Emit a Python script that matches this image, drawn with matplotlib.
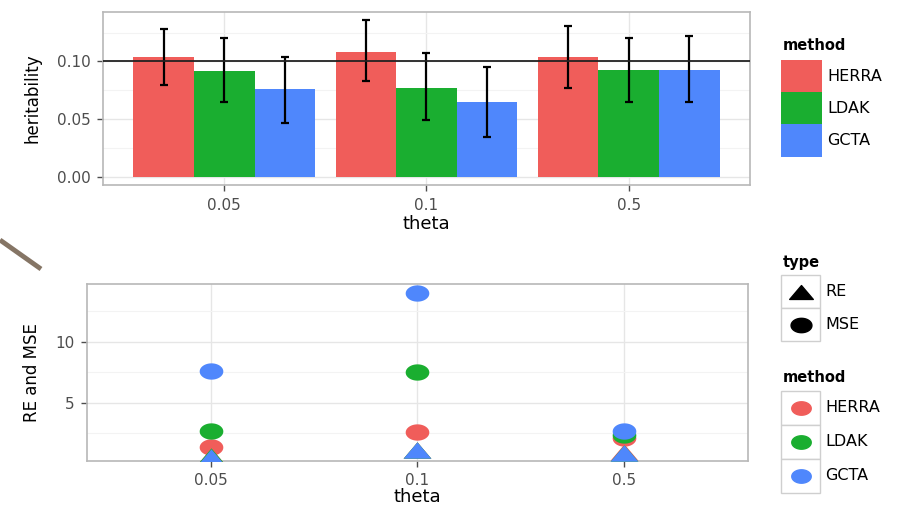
import numpy as np
import matplotlib
matplotlib.use("Agg")
import matplotlib.pyplot as plt
from matplotlib.path import Path
from matplotlib.patches import Rectangle
from matplotlib.lines import Line2D

# ---------------- data ----------------
thetas = ["0.05", "0.1", "0.5"]
methods = ["HERRA", "LDAK", "GCTA"]
colors = ["#F05D5A", "#1AAE30", "#4F87FC"]

# heritability estimates (bar heights) per method, per theta
herit = {
    "HERRA": [0.1035, 0.1085, 0.1035],
    "LDAK":  [0.0915, 0.0770, 0.0930],
    "GCTA":  [0.0760, 0.0650, 0.0930],
}
herit_lo = {
    "HERRA": [0.080, 0.083, 0.077],
    "LDAK":  [0.065, 0.0495, 0.065],
    "GCTA":  [0.047, 0.035, 0.065],
}
herit_hi = {
    "HERRA": [0.128, 0.136, 0.131],
    "LDAK":  [0.1205, 0.107, 0.120],
    "GCTA":  [0.104, 0.095, 0.122],
}
true_h = 0.10

# RE (triangles) and MSE (circles) per method, per theta
re_vals = {
    "HERRA": [0.65, 1.15, 0.95],
    "LDAK":  [0.60, 1.10, 0.90],
    "GCTA":  [0.55, 1.10, 0.90],
}
mse_vals = {
    "HERRA": [1.40, 2.62, 2.15],
    "LDAK":  [2.70, 7.54, 2.40],
    "GCTA":  [7.62, 14.00, 2.70],
}

W, H = 903, 512
fig = plt.figure(figsize=(W / 100, H / 100), dpi=100)
fig.patch.set_facecolor("white")

def fbox(l, t, r, b):
    return [l / W, 1 - b / H, (r - l) / W, (b - t) / H]

def fx(x):
    return x / W

def fy(y):
    return 1 - y / H

GRID_MAJ = "#e6e6e6"
GRID_MIN = "#f3f3f3"
BORDER = "#b8b8b8"
TICKC = "#4d4d4d"

def style_axes(ax):
    ax.set_facecolor("white")
    for s in ax.spines.values():
        s.set_color(BORDER)
        s.set_linewidth(1.2)
    ax.tick_params(axis="both", colors=TICKC, labelcolor=TICKC, length=4,
                   width=1.0, labelsize=11)
    ax.tick_params(axis="x", pad=5)
    ax.tick_params(axis="y", pad=5)
    ax.grid(True, which="major", color=GRID_MAJ, lw=1.0)
    ax.grid(True, which="minor", axis="y", color=GRID_MIN, lw=0.8)
    ax.tick_params(axis="y", which="minor", length=0)
    ax.set_axisbelow(True)

# ---------------- top panel ----------------
ax1 = fig.add_axes(fbox(103, 12, 750, 185))
style_axes(ax1)
xpos = np.arange(1, len(thetas) + 1)
bw = 0.3
for j, m in enumerate(methods):
    xs = xpos + (j - 1) * bw
    h = np.array(herit[m])
    lo = np.array(herit_lo[m])
    hi = np.array(herit_hi[m])
    ax1.bar(xs, h, width=bw, color=colors[j], zorder=2, linewidth=0)
    ax1.errorbar(xs, h, yerr=[h - lo, hi - h], fmt="none", ecolor="black",
                 elinewidth=1.6, capsize=3, capthick=1.6, zorder=3)
ax1.axhline(true_h, color="#222222", lw=1.3, zorder=4)
ax1.set_xlim(0.4, 3.6)
ax1.set_ylim(-0.0068, 0.1428)
ax1.set_xticks(xpos)
ax1.set_xticklabels(thetas)
ax1.set_yticks([0.0, 0.05, 0.10])
ax1.set_yticklabels(["0.00", "0.05", "0.10"])
ax1.set_yticks([0.025, 0.075, 0.125], minor=True)
ax1.set_xlabel("theta", fontsize=13, labelpad=2)
ax1.set_ylabel("heritability", fontsize=12, labelpad=11)

# ---------------- bottom panel ----------------
ax2 = fig.add_axes(fbox(87, 284, 748, 460.5))
style_axes(ax2)

t = np.linspace(0, 2 * np.pi, 60)
ell = Path(np.column_stack([1.45 * np.cos(t), np.sin(t)]), closed=True)
tri = Path([(0, 0.5), (-0.85, -0.5), (0.85, -0.5), (0, 0.5)], closed=True)

for j, m in enumerate(methods):
    ax2.scatter(xpos, mse_vals[m], marker=ell, s=290, color=colors[j],
                linewidths=0, zorder=3)
for j, m in enumerate(methods):
    ax2.scatter(xpos, re_vals[m], marker=tri, s=400, color=colors[j],
                linewidths=0, zorder=3)
ax2.set_xlim(0.4, 3.6)
ax2.set_ylim(0.27, 14.73)
ax2.set_xticks(xpos)
ax2.set_xticklabels(thetas)
ax2.set_yticks([5, 10])
ax2.set_yticks([2.5, 7.5, 12.5], minor=True)
ax2.set_xlabel("theta", fontsize=13, labelpad=0)
ax2.set_ylabel("RE and MSE", fontsize=12, labelpad=10)

# ---------------- legends ----------------
LEGB = "#cfcfcf"
# top legend: fills
fig.text(fx(783), fy(46), "method", fontsize=10.5, fontweight="bold",
         va="center", ha="left")
key_t = [60, 92, 124]
for j, m in enumerate(methods):
    top = key_t[j]
    fig.add_artist(Rectangle((fx(781), fy(top + 33)), (822 - 781) / W, 33 / H,
                             transform=fig.transFigure, facecolor=colors[j],
                             edgecolor="none"))
    fig.text(fx(827), fy(top + 16.5), m, fontsize=11.5, va="center", ha="left")

# bottom legend: type
fig.text(fx(783), fy(263), "type", fontsize=10.5, fontweight="bold",
         va="center", ha="left")
type_labels = ["RE", "MSE"]
type_marks = [tri, ell]
type_t = [275, 308]
for k in range(2):
    top = type_t[k]
    fig.add_artist(Rectangle((fx(781), fy(top + 33)), (820 - 781) / W, 33 / H,
                             transform=fig.transFigure, facecolor="white",
                             edgecolor=LEGB, lw=1.0))
    fig.add_artist(Line2D([fx(800.5)], [fy(top + 16.5)], marker=type_marks[k],
                          markersize=17 if k == 0 else 15, color="black",
                          linestyle="none", transform=fig.transFigure))
    fig.text(fx(825), fy(top + 16.5), type_labels[k], fontsize=11.5,
             va="center", ha="left")

# bottom legend: method
fig.text(fx(783), fy(378), "method", fontsize=10.5, fontweight="bold",
         va="center", ha="left")
meth_t = [391, 425, 459]
for j, m in enumerate(methods):
    top = meth_t[j]
    fig.add_artist(Rectangle((fx(781), fy(top + 34)), (820 - 781) / W, 34 / H,
                             transform=fig.transFigure, facecolor="white",
                             edgecolor=LEGB, lw=1.0))
    fig.add_artist(Line2D([fx(800.5)], [fy(top + 17)], marker=ell,
                          markersize=14, color=colors[j], linestyle="none",
                          transform=fig.transFigure))
    fig.text(fx(825), fy(top + 17), m, fontsize=11.5, va="center", ha="left")

# decorative slide stroke at left
fig.add_artist(Line2D([fx(0), fx(41)], [fy(240), fy(269)], color="#857565",
                      lw=3.5, transform=fig.transFigure, solid_capstyle="butt"))

fig.savefig("out.png", dpi=100)
